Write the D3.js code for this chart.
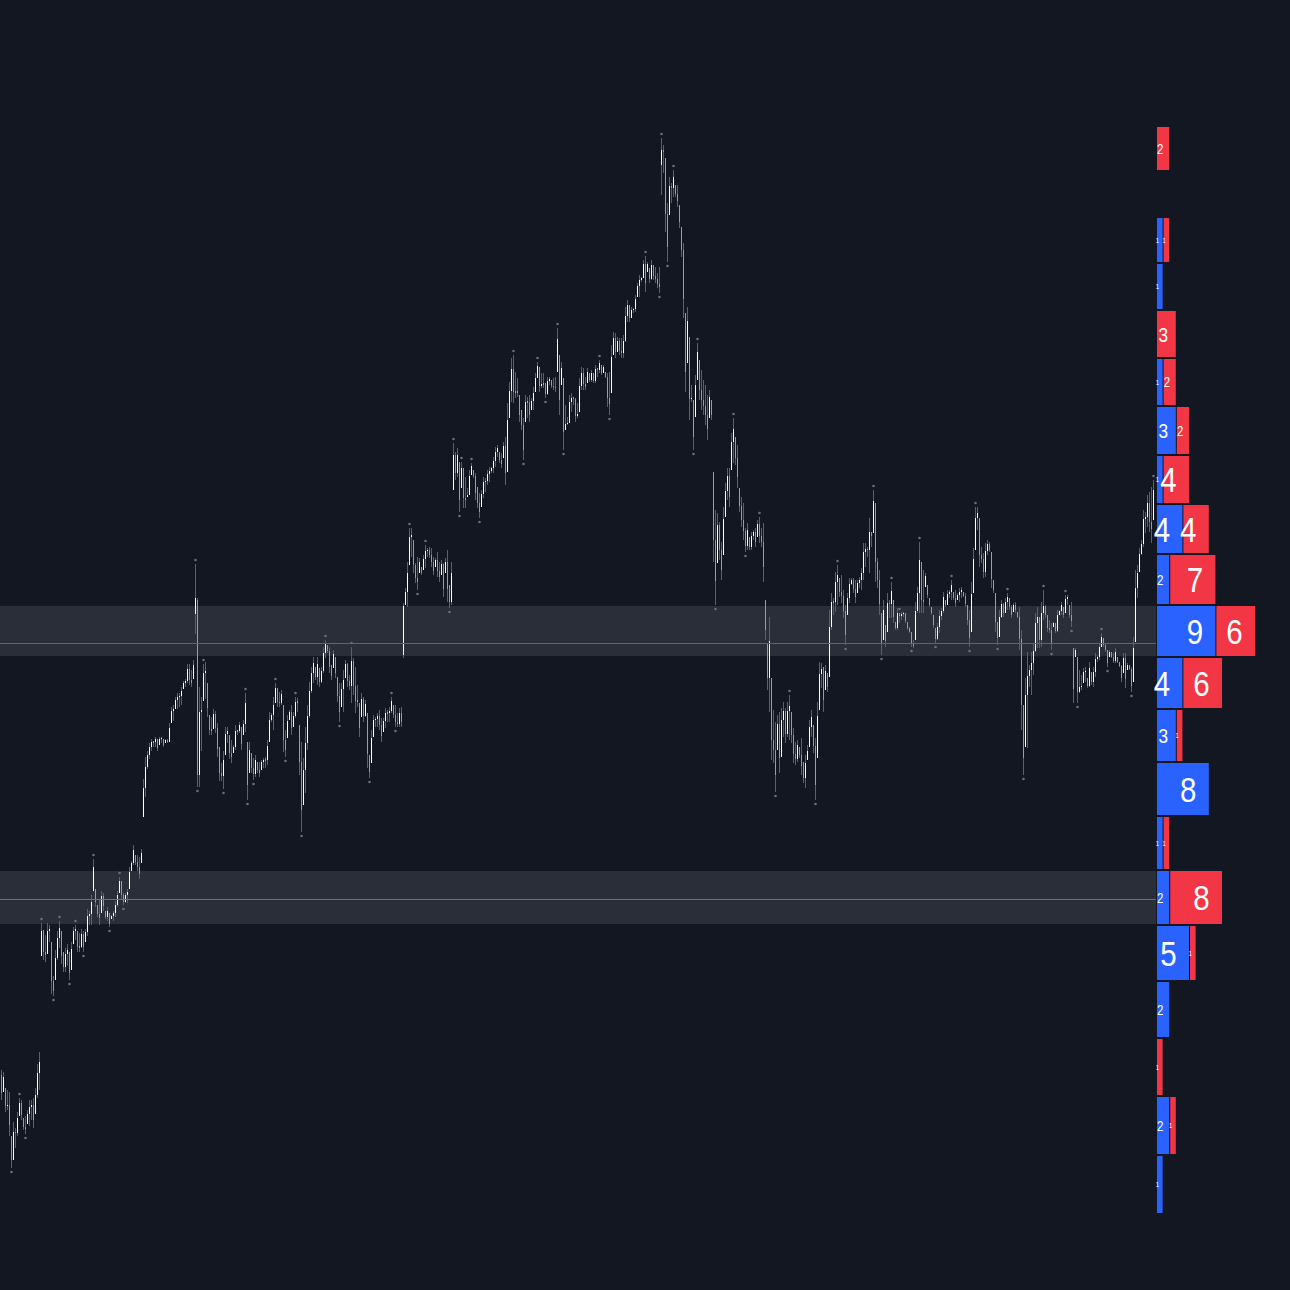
<!DOCTYPE html>
<html><head><meta charset="utf-8">
<script src="https://cdn.jsdelivr.net/npm/d3@7"></script>
<style>html,body{margin:0;padding:0;background:#131722;overflow:hidden}svg{display:block}</style>
</head><body>
<svg id="chart" width="1290" height="1290"></svg>
<script>
// OHLC candles [open, high, low, close]
const candles = [
[42.5,43.0,40.0,40.7],[40.8,42.8,40.8,42.3],[41.2,41.2,38.8,39.4],[39.4,41.0,39.0,39.5],[39.5,40.8,36.4,37.5],
[36.4,36.4,33.2,34.0],[34.0,37.8,34.0,36.8],[36.8,37.2,35.2,36.7],[36.7,38.8,36.4,38.2],[38.4,40.2,38.4,39.7],
[39.7,40.0,38.0,38.5],[38.2,38.2,37.0,37.3],[37.3,38.4,36.6,37.1],[37.6,39.0,37.6,38.6],[38.6,40.0,37.4,39.3],
[39.3,40.0,38.0,39.5],[39.5,40.2,37.2,38.0],[38.6,41.2,38.6,40.5],[40.5,43.6,40.2,42.7],[42.7,44.8,41.0,43.8],
[54.4,57.7,54.4,56.9],[57.0,57.0,54.0,54.8],[54.8,56.5,53.8,54.5],[54.6,57.7,54.6,56.9],[56.9,57.5,55.8,57.1],
[55.8,55.8,50.6,51.9],[51.9,52.4,50.4,50.9],[52.0,55.0,52.0,54.2],[54.2,56.9,54.0,56.2],[56.2,57.9,55.2,57.2],
[56.9,56.9,53.6,54.4],[54.8,54.8,52.8,53.3],[53.3,55.2,52.8,54.6],[54.6,55.6,53.4,55.0],[54.8,54.8,52.0,52.7],
[53.0,55.8,53.0,55.1],[55.6,57.3,55.6,56.9],[56.9,57.5,56.0,57.1],[56.9,56.9,54.8,55.3],[55.3,56.7,54.8,55.3],
[55.3,57.1,55.2,56.6],[56.6,56.9,54.8,55.3],[55.8,57.1,55.8,56.8],[56.8,59.1,56.4,58.4],[58.4,58.9,57.5,58.6],
[58.6,60.5,57.5,59.8],[60.9,64.1,60.9,63.3],[61.1,61.1,59.3,59.8],[59.5,59.5,58.3,58.6],[58.6,60.1,57.5,58.2],
[58.7,60.9,58.7,60.4],[60.4,60.7,58.9,59.4],[58.9,58.9,58.1,58.3],[58.3,59.3,57.9,58.9],[58.7,58.7,57.3,57.6],
[58.1,58.5,58.1,58.4],[58.4,58.9,57.9,58.7],[58.7,59.9,58.3,59.5],[59.5,60.9,59.3,60.5],[60.7,62.3,60.7,61.9],
[61.9,61.9,60.1,60.5],[60.5,60.7,59.5,59.8],[59.8,60.7,59.7,60.5],[60.5,61.1,59.7,60.8],[61.1,63.3,61.1,62.8],
[62.9,63.9,62.9,63.7],[63.7,65.5,63.5,65.0],[64.5,64.5,63.5,63.8],[63.8,64.5,62.9,63.3],[63.3,64.3,62.1,62.6],
[63.7,65.1,63.7,64.7],[68.3,72.1,68.3,71.2],[71.2,74.3,70.3,73.3],[73.3,74.9,73.1,74.5],[74.5,75.7,74.1,75.3],
[75.3,76.1,74.9,75.8],[75.8,75.9,75.3,75.8],[75.8,76.3,75.3,76.1],[76.1,76.1,74.9,75.2],[75.5,76.3,75.5,76.1],
[76.1,76.3,75.7,76.2],[76.1,76.1,75.3,75.5],[75.7,76.1,75.7,76.0],[76.0,76.1,75.7,75.8],[75.8,77.7,75.8,77.2],
[77.7,79.3,77.7,78.9],[78.9,79.5,77.9,79.1],[79.1,80.3,79.1,80.0],[80.0,80.7,79.1,80.3],[80.3,80.7,79.3,80.4],
[80.4,81.3,79.5,80.9],[81.1,81.9,81.1,81.7],[81.7,82.1,81.3,81.9],[81.9,83.6,81.7,83.1],[83.1,83.6,81.5,82.0],
[82.0,83.0,81.3,81.7],[82.1,84.0,82.1,83.5],[88.6,93.6,86.6,90.2],[90.0,90.2,71.3,72.5],[72.5,81.3,71.3,78.8],
[78.8,80.3,74.9,79.0],[79.9,83.6,79.9,82.7],[82.7,83.8,80.1,82.9],[81.7,81.7,78.3,79.2],[78.5,78.5,76.5,77.0],
[77.0,78.3,76.5,77.0],[77.1,79.1,77.1,78.6],[78.6,78.9,76.7,77.2],[77.2,77.7,74.3,75.1],[75.3,75.3,71.9,72.7],
[72.7,73.7,71.9,72.4],[72.4,74.9,71.1,74.0],[74.5,77.3,74.5,76.6],[76.6,77.3,75.7,76.9],[76.5,76.5,74.1,74.7],
[74.7,76.0,73.7,74.3],[74.7,75.5,74.7,75.3],[75.3,77.5,75.0,76.9],[76.9,77.0,76.5,76.9],[76.9,77.8,76.7,77.5],
[77.3,77.3,75.0,75.6],[76.5,78.0,76.5,77.6],[77.6,80.7,76.8,79.7],[75.8,75.8,70.0,71.5],[72.7,75.8,72.7,75.0],
[74.7,74.7,72.7,73.2],[73.2,74.2,72.0,72.6],[72.6,74.5,72.3,74.0],[73.8,73.8,72.7,73.0],[73.0,73.8,72.3,72.7],
[73.0,74.0,73.0,73.8],[73.8,74.2,73.2,74.0],[74.0,74.3,73.2,74.0],[74.0,76.0,73.5,75.4],[75.8,78.8,75.8,78.0],
[78.0,78.7,77.8,78.5],[78.5,80.3,77.0,79.5],[79.7,81.7,79.7,81.2],[81.2,81.2,79.3,79.8],[79.8,80.8,79.3,79.7],
[79.7,81.0,79.5,80.6],[79.5,79.5,74.8,76.0],[76.0,77.0,74.3,75.0],[76.2,78.5,76.2,77.9],[78.0,79.0,78.0,78.8],
[78.8,79.5,76.5,77.2],[77.3,78.8,77.3,78.4],[78.4,80.3,78.2,79.8],[79.8,80.2,78.8,79.8],[77.5,77.5,72.5,73.8],
[73.8,75.8,66.8,69.0],[69.5,74.2,69.5,73.0],[73.0,77.3,70.7,75.7],[75.7,79.5,75.0,78.4],[78.4,81.8,78.2,80.9],
[80.9,83.3,80.7,82.7],[82.7,84.3,81.7,83.7],[83.3,83.3,82.0,82.3],[82.3,84.3,81.5,83.6],[83.2,83.2,81.3,81.8],
[81.8,83.3,81.7,82.9],[82.9,85.3,82.7,84.7],[84.7,86.0,84.2,85.6],[85.5,85.5,84.7,84.9],[84.9,85.3,82.7,83.3],
[83.5,83.5,82.0,82.4],[83.2,85.0,83.2,84.6],[84.3,84.3,82.2,82.7],[82.3,82.3,79.8,80.4],[80.4,81.7,77.8,78.8],
[79.3,81.7,79.3,81.1],[81.1,83.0,78.8,82.0],[82.2,84.0,82.2,83.6],[83.6,83.7,81.3,81.9],[81.9,82.5,81.0,81.4],
[81.4,85.3,79.7,83.9],[83.9,84.2,80.5,81.4],[81.4,83.3,78.7,79.9],[79.9,81.5,79.3,79.9],[79.7,79.7,76.3,77.2],
[78.3,80.7,78.3,80.1],[80.1,80.3,77.8,78.4],[78.4,80.0,78.3,79.6],[78.7,78.7,73.2,74.6],[74.5,74.5,72.2,72.8],
[73.7,77.0,73.7,76.2],[76.3,78.5,76.3,78.0],[78.0,78.3,77.3,78.1],[78.1,78.7,77.3,78.4],[78.4,79.0,77.0,77.5],
[77.5,78.2,75.8,76.4],[76.8,78.2,76.8,77.9],[77.9,79.2,77.2,78.7],[78.7,79.0,77.8,78.7],[78.7,79.3,77.8,78.9],
[78.9,80.3,78.7,79.9],[79.5,79.5,78.2,78.5],[78.5,79.5,77.3,77.8],[77.8,78.7,77.3,77.6],[77.6,79.2,77.3,78.7],
[78.7,79.3,77.3,77.8],[84.5,89.7,84.2,89.4],[89.5,91.2,89.5,90.8],[90.8,93.8,89.3,92.7],[93.5,97.2,93.5,96.3],
[96.3,97.2,94.3,96.5],[96.0,96.0,92.7,93.5],[93.5,93.7,91.7,92.2],[92.2,94.3,91.0,91.8],[92.7,94.2,92.7,93.8],
[93.3,93.3,92.5,92.7],[93.0,94.5,93.0,94.1],[94.1,95.5,93.2,94.9],[94.9,95.2,94.3,95.0],[95.0,95.3,94.2,94.5],
[94.5,95.2,93.3,93.8],[93.8,94.3,92.5,92.9],[93.3,94.2,93.3,94.0],[94.0,94.8,92.3,92.9],[92.9,93.8,91.8,92.3],
[92.5,94.0,92.5,93.6],[93.6,93.7,90.3,91.1],[92.7,94.2,92.7,93.8],[93.8,95.0,89.8,91.1],[91.5,91.5,89.2,89.8],
[89.8,93.8,89.5,92.7],[101.0,105.7,101.0,104.5],[104.5,104.8,102.0,102.7],[102.7,105.2,102.3,104.5],[103.8,103.8,98.8,100.0],
[101.2,103.8,101.2,103.2],[103.2,103.2,99.2,100.2],[100.2,102.3,99.2,100.0],[100.3,101.2,100.3,100.5],[100.5,103.0,100.5,102.4],
[102.5,103.7,102.5,103.4],[103.0,103.0,102.2,102.4],[102.4,102.7,100.0,100.7],[101.3,101.3,99.2,99.7],[99.7,100.7,98.2,98.8],
[99.3,101.0,99.3,100.6],[100.6,102.3,100.2,101.8],[101.8,102.2,100.8,101.9],[101.9,103.0,101.5,102.6],[102.6,103.3,101.8,102.9],
[102.9,103.3,102.7,103.2],[103.2,104.3,102.7,103.9],[103.9,105.3,103.3,104.8],[104.8,105.5,104.3,105.2],[104.8,104.8,103.7,104.0],
[104.0,104.7,103.2,103.6],[104.2,105.8,104.2,105.4],[105.4,106.3,101.5,102.7],[102.8,109.7,102.8,108.0],[108.2,111.8,108.2,110.9],
[110.9,114.2,109.8,113.1],[113.1,114.5,109.7,110.8],[110.8,112.8,110.2,110.8],[110.8,112.2,110.3,110.8],[110.5,110.5,107.8,108.5],
[109.0,109.0,107.0,107.5],[107.5,108.2,104.0,105.0],[107.8,110.5,107.8,109.8],[109.8,110.3,108.2,109.8],[109.8,110.5,107.8,108.5],
[109.0,110.2,109.0,109.9],[109.9,111.3,109.0,110.7],[110.8,112.7,110.8,112.2],[112.2,113.8,112.2,113.4],[113.3,113.3,110.8,111.4],
[111.4,112.7,111.2,111.6],[111.6,112.7,111.2,111.6],[111.7,111.7,110.2,110.6],[110.6,112.3,110.5,111.9],[111.9,112.3,111.5,112.1],
[112.0,112.0,111.2,111.4],[111.4,112.2,111.0,111.3],[111.3,112.3,110.8,111.2],[112.8,117.2,112.8,116.1],[114.5,114.5,108.5,110.0],
[111.5,113.8,111.5,113.2],[112.2,112.2,105.0,106.8],[107.0,109.5,107.0,107.6],[107.6,108.3,107.5,107.7],[107.7,110.5,107.7,109.8],
[109.8,110.7,108.8,110.2],[110.3,110.3,109.5,110.1],[110.1,110.2,107.8,108.4],[108.4,109.7,108.2,108.6],[108.8,112.2,108.8,111.4],
[111.4,113.3,111.0,112.7],[112.7,113.2,111.0,111.6],[111.6,112.3,111.0,111.3],[111.7,113.2,111.7,112.8],[112.7,112.7,111.8,112.0],
[112.0,113.0,111.8,112.7],[112.7,112.7,111.7,111.9],[111.9,113.5,111.7,113.1],[113.2,113.2,112.3,113.0],[113.0,114.0,112.7,113.7],
[113.5,113.5,112.5,112.7],[112.7,113.5,112.7,113.3],[112.8,112.8,112.2,112.3],[112.3,112.7,109.3,110.2],[110.2,112.8,108.5,109.6],
[110.7,115.5,110.7,114.3],[114.5,116.8,114.5,116.2],[116.2,116.7,114.2,114.8],[114.8,116.3,114.8,115.9],[115.9,116.2,114.5,114.9],
[114.9,116.2,114.2,114.7],[114.7,116.5,114.2,115.9],[115.9,119.3,115.8,118.4],[118.4,120.0,117.8,119.5],[119.5,119.5,117.8,118.2],
[118.2,119.3,118.2,119.0],[119.0,119.2,118.7,119.1],[119.1,120.5,118.8,120.1],[120.3,121.7,120.3,121.4],[121.4,122.5,120.3,122.0],
[122.0,122.3,121.8,122.2],[122.2,124.0,122.2,123.6],[123.6,124.4,120.8,121.7],[122.8,123.8,122.8,123.6],[123.2,123.2,121.7,122.1],
[122.1,124.0,122.0,123.5],[123.5,123.5,122.0,122.4],[122.4,123.3,121.7,122.1],[122.1,122.7,121.2,121.6],[121.6,123.3,120.7,121.3],
[133.5,136.2,130.5,135.0],[135.0,135.5,132.7,134.8],[134.2,134.2,126.8,128.6],[128.6,129.7,123.8,125.3],[128.5,132.3,128.5,131.4],
[131.4,131.7,129.7,131.2],[131.2,133.0,130.3,132.3],[131.5,131.5,130.3,130.6],[130.6,131.5,129.3,129.9],[129.5,129.5,127.2,127.8],
[127.3,127.3,124.3,125.0],[125.0,125.7,118.2,120.1],[118.7,118.7,110.8,112.8],[113.7,119.3,113.7,117.9],[116.3,116.3,108.0,110.1],
[110.1,111.5,109.8,110.2],[110.0,110.0,105.0,106.3],[108.3,112.5,108.3,111.5],[112.0,115.7,112.0,114.8],[114.0,114.0,110.0,111.0],
[111.0,113.0,109.0,110.0],[110.0,112.0,108.5,109.4],[109.4,111.5,107.5,108.5],[108.5,110.5,106.0,107.1],[108.2,111.0,108.2,110.3],
[110.0,110.0,108.0,108.5],[102.8,102.8,93.8,96.0],[96.0,99.0,89.5,91.9],[93.7,98.7,93.7,97.5],[97.5,97.8,94.0,95.0],
[95.0,95.8,92.0,93.0],[94.5,99.3,94.5,98.1],[98.3,101.7,98.3,100.9],[100.9,103.2,100.0,102.4],[102.4,103.2,99.3,100.3],
[103.0,106.7,103.0,105.8],[105.8,108.2,103.7,107.1],[106.3,106.3,103.5,104.2],[104.2,105.5,101.2,102.3],[101.2,101.2,98.8,99.4],
[99.4,100.3,97.3,98.0],[98.0,99.7,96.0,96.9],[96.9,97.2,94.8,95.4],[95.4,97.7,95.0,97.0],[96.3,96.3,95.0,95.3],
[95.3,96.8,95.0,96.4],[96.4,97.0,96.0,96.8],[96.8,97.2,95.3,95.8],[96.3,98.0,96.3,97.6],[97.6,98.3,95.7,96.4],
[96.4,97.2,95.3,95.8],[95.8,97.7,91.8,93.3],[90.0,90.0,86.0,87.0],[85.7,85.7,81.0,82.2],[82.2,88.3,78.8,85.9],
[82.2,82.2,74.0,76.0],[76.0,79.0,73.7,75.0],[75.0,77.8,70.8,72.5],[75.0,78.5,75.0,77.6],[77.6,78.8,72.7,74.2],
[74.3,79.2,74.3,78.0],[78.0,79.8,76.3,78.9],[78.9,79.2,75.7,76.6],[76.6,79.8,76.3,78.9],[78.9,80.5,76.0,79.4],
[78.8,78.8,75.7,76.5],[76.5,77.2,73.7,74.6],[74.6,75.8,73.5,74.1],[74.1,76.0,73.8,75.5],[75.3,75.3,74.2,74.5],
[74.5,76.2,72.5,73.4],[73.8,73.8,71.7,72.2],[72.2,74.5,71.2,73.7],[74.0,75.5,74.0,74.9],[75.3,78.0,75.3,77.3],
[77.3,79.0,76.3,78.3],[77.5,77.5,74.7,75.4],[75.4,76.2,70.0,71.5],[74.2,79.8,74.2,78.4],[79.0,83.8,79.0,82.6],
[82.6,83.7,81.2,83.1],[83.3,83.3,78.8,80.0],[81.0,83.5,81.0,82.9],[82.7,82.7,80.8,81.3],[82.3,89.0,82.3,87.3],
[87.3,90.7,87.0,89.8],[89.8,90.2,88.5,89.8],[89.8,92.8,88.8,91.8],[91.8,93.5,89.5,92.5],[92.2,92.2,90.3,90.8],
[90.8,92.5,89.7,90.4],[90.4,91.0,88.2,88.9],[88.9,89.5,85.5,86.5],[88.5,90.7,88.5,90.2],[90.2,92.2,89.7,91.6],
[91.6,92.2,91.5,92.0],[92.0,92.2,90.7,91.1],[91.1,92.0,89.7,90.3],[90.7,92.0,90.7,91.7],[91.7,92.3,91.2,92.0],
[92.0,93.2,91.0,92.7],[92.7,95.7,92.0,94.8],[94.8,95.7,93.3,95.1],[95.1,95.3,94.3,95.0],[95.0,98.2,92.7,96.8],
[96.8,96.8,95.3,96.4],[96.7,101.0,96.7,99.9],[99.7,99.7,91.8,93.8],[93.8,94.2,91.2,92.0],[92.0,93.0,88.5,89.6],
[88.7,88.7,84.5,85.7],[86.0,90.0,86.0,89.0],[87.5,87.5,85.3,85.9],[86.8,90.7,86.8,89.7],[89.7,90.0,88.2,89.6],
[89.6,91.8,88.2,90.9],[90.0,90.0,87.7,88.3],[87.8,87.8,87.0,87.2],[87.2,89.2,87.0,88.7],[88.7,88.7,87.7,88.4],
[88.4,88.8,88.0,88.6],[88.6,88.8,88.3,88.7],[88.7,88.7,87.7,87.9],[87.8,87.8,87.0,87.2],[87.2,87.3,86.7,86.8],
[86.8,86.8,85.3,85.7],[85.7,86.0,85.2,85.4],[86.0,89.8,86.0,88.9],[88.9,91.3,88.7,90.7],[90.7,95.8,88.7,94.0],
[93.8,93.8,88.7,90.0],[90.0,93.0,88.7,89.8],[91.3,92.7,91.3,92.4],[91.5,91.5,90.2,90.5],[90.2,90.2,89.3,89.5],
[89.3,89.3,88.5,88.7],[88.5,88.5,87.2,87.5],[87.2,87.2,85.7,86.1],[86.1,87.7,86.0,87.3],[87.3,89.0,86.7,88.4],
[88.4,89.2,88.0,88.9],[88.9,90.8,88.7,90.3],[90.0,90.0,89.3,89.5],[89.5,91.0,89.5,90.6],[90.6,91.0,90.2,90.8],
[90.8,92.0,90.0,91.5],[90.8,90.8,90.0,90.2],[90.2,91.0,89.3,89.7],[90.0,90.7,90.0,90.5],[90.5,91.2,89.8,90.8],
[90.8,91.3,90.2,91.0],[90.8,90.8,90.3,90.4],[90.4,90.7,89.3,89.6],[89.5,89.5,87.5,88.0],[88.0,89.0,85.3,86.2],
[86.8,91.8,86.8,90.6],[90.7,95.2,90.7,94.1],[95.0,99.3,95.0,98.2],[98.2,99.3,97.0,98.7],[98.2,98.2,93.3,94.5],
[94.5,95.3,93.7,94.1],[94.1,94.7,92.2,92.8],[92.8,95.7,92.3,94.9],[94.9,96.0,94.5,95.6],[95.6,95.8,94.8,95.0],
[94.8,94.8,91.2,92.1],[92.0,92.0,90.7,91.0],[90.7,90.7,86.8,87.8],[87.8,87.8,85.5,86.2],[86.3,89.0,86.3,88.3],
[88.3,90.0,88.2,89.6],[89.6,89.7,88.3,88.7],[88.7,90.2,88.7,89.8],[89.8,90.7,89.0,90.3],[90.2,90.2,89.0,89.3],
[89.3,89.5,88.2,88.5],[88.8,89.7,88.8,89.5],[89.5,89.8,88.7,89.0],[88.8,88.8,88.2,88.3],[88.3,89.3,85.0,86.1],
[86.1,87.0,77.0,79.5],[79.5,79.5,72.5,74.2],[75.3,82.2,75.3,80.5],[80.5,84.8,75.2,82.4],[82.4,83.5,81.3,83.0],
[83.0,84.8,80.5,83.7],[83.7,85.7,82.5,84.9],[84.9,88.7,84.8,87.7],[87.7,89.3,85.2,88.3],[88.3,88.3,85.2,86.0],
[86.0,89.8,85.3,88.7],[88.7,91.0,88.0,89.4],[89.4,89.5,88.2,88.5],[88.5,88.5,86.8,87.2],[87.2,88.0,86.7,87.0],
[87.0,87.7,85.0,85.7],[87.3,87.8,87.3,87.7],[87.7,87.7,86.7,86.9],[86.9,89.0,86.8,88.5],[88.5,89.0,88.5,88.9],
[88.9,89.8,88.5,89.5],[89.3,89.3,88.2,88.5],[88.7,90.5,88.7,90.1],[90.1,90.5,89.5,90.3],[89.5,89.5,88.2,88.5],
[88.5,89.8,87.3,87.9],[85.2,85.2,79.7,81.1],[84.3,85.2,84.3,85.0],[84.3,84.3,79.7,80.8],[80.8,83.0,80.7,81.3],
[81.3,82.5,81.0,81.4],[81.7,83.2,81.7,82.8],[82.8,83.3,81.8,82.9],[82.2,82.2,81.2,81.4],[81.4,83.8,81.3,83.2],
[82.8,82.8,81.5,81.8],[81.8,83.3,81.3,82.8],[82.8,84.7,82.3,84.1],[84.1,84.5,83.8,84.3],[84.3,85.7,84.0,85.3],
[85.3,86.7,85.3,86.3],[86.2,86.2,85.3,85.5],[85.5,85.7,84.8,85.0],[85.0,85.0,83.3,83.7],[84.3,85.0,84.3,84.8],
[84.8,84.8,84.2,84.3],[84.3,84.7,83.7,83.9],[83.9,85.2,83.7,84.8],[84.3,84.3,83.7,83.8],[83.8,83.8,83.3,83.4],
[83.4,83.5,81.8,82.2],[82.7,84.7,82.7,84.2],[84.2,84.7,81.2,82.1],[83.0,83.7,83.0,83.5],[83.5,83.5,83.0,83.1],
[83.1,83.3,80.8,81.4],[81.8,86.3,81.8,85.2],[85.8,93.0,85.8,91.2],[91.2,93.5,90.2,92.7],[92.8,95.2,92.8,94.6],
[94.6,96.0,94.5,95.6],[95.6,99.0,95.3,98.1],[98.1,98.8,96.7,98.3],[98.3,100.5,97.3,99.7],[99.7,100.8,96.8,97.8],
[97.8,101.3,95.7,97.1],[98.0,102.0,98.0,101.0]
];

// candle indices carrying pivot markers
const pivotHighIdx = [9,20,29,37,46,59,97,101,122,137,147,162,175,195,204,212,226,230,235,256,268,278,299,322,330,336,348,366,379,394,418,436,445,449,459,475,487,503,521,532,550,576];
const pivotLowIdx = [5,12,26,34,41,54,61,98,111,123,126,142,150,169,184,197,208,224,229,239,261,272,281,304,329,333,346,357,372,387,407,422,440,455,467,484,498,511,525,535,538,553,565];

// profile rows (price edges, top to bottom) and pivot counts per row
const binEdges = [137.4,132.9,128.3,123.7,119.0,114.2,109.4,104.5,99.6,94.6,89.5,84.3,79.1,73.8,68.4,63.0,57.5,51.9,46.2,40.4,34.5,28.6];
const lowCounts  = [0,0,1,1,0,1,3,1,4,2,9,4,3,8,1,2,5,2,0,2,1];
const highCounts = [2,0,1,0,3,2,2,4,4,7,6,6,1,0,1,8,1,0,1,1,0];

// highlighted zones
const zoneTops = [89.5, 63.0];
const zoneBottoms = [84.3, 57.5];
const zoneLevels = [85.7, 60.1];

const W = 1290, H = 1290;
const chartRight = 1156;
const svg = d3.select('#chart');
svg.append('rect').attr('width', W).attr('height', H).attr('fill', '#131722');

const y = d3.scaleLinear().domain([21, 150]).range([H, 0]);
const x = d3.scaleLinear().domain([0, candles.length - 1]).range([1, 1153]);

const zoneLineColors = ['#2962ff', '#f23645'];

// zones
const gz = svg.append('g');
zoneTops.forEach((t, i) => {
  const y0 = y(t) + 1, y1 = y(zoneBottoms[i]) - 1;
  gz.append('rect').attr('x', 0).attr('y', y0).attr('width', chartRight).attr('height', y1 - y0).attr('fill', '#2a2e39');
});

// candles
const gc = svg.append('g');
candles.forEach((d, i) => {
  const [o, h, l, c] = d;
  const cx = Math.round(x(i)) + 0.5;
  gc.append('line').attr('x1', cx).attr('x2', cx).attr('y1', y(h)).attr('y2', y(l))
    .attr('stroke', '#5d606b').attr('stroke-width', 1);
  let yt = y(Math.max(o, c)), yb = y(Math.min(o, c));
  if (yb - yt < 1) { const m = (yt + yb) / 2; yt = m - 0.5; yb = m + 0.5; }
  gc.append('line').attr('x1', cx).attr('x2', cx).attr('y1', yt).attr('y2', yb)
    .attr('stroke', c >= o ? '#ffffff' : '#9a9da6').attr('stroke-width', 1);
});

// pivot markers
const gm = svg.append('g').attr('fill', '#6b6e79');
pivotHighIdx.forEach(i => {
  gm.append('circle').attr('cx', Math.round(x(i)) + 0.5).attr('cy', y(candles[i][1]) - 4).attr('r', 1.3);
});
pivotLowIdx.forEach(i => {
  gm.append('circle').attr('cx', Math.round(x(i)) + 0.5).attr('cy', y(candles[i][2]) + 4).attr('r', 1.3);
});

// zone level lines
zoneLevels.forEach((lv, i) => {
  const yy = Math.round(y(lv)) + 0.5;
  svg.append('line').attr('x1', 0).attr('x2', chartRight).attr('y1', yy).attr('y2', yy)
    .attr('stroke', zoneLineColors[i]).attr('stroke-width', 1);
});

// profile
const px0 = 1157;
const xp = d3.scaleLinear().domain([0, 10]).range([px0, px0 + 66]);
const gp = svg.append('g');
function label(v, right, cy) {
  const fs = v >= 4 ? 36 : 7 * v;
  const tx = right - (0.3 * fs + 1.5), ty = cy + 0.358 * fs;
  gp.append('text').attr('transform', `translate(${tx},${ty}) scale(0.82,1)`)
    .attr('text-anchor', 'end').attr('font-family', 'Liberation Sans, Arial, sans-serif')
    .attr('font-size', fs).attr('fill', '#ffffff').text(v);
}
for (let r = 0; r < binEdges.length - 1; r++) {
  const top = y(binEdges[r]) + 1, bot = y(binEdges[r + 1]) - 1;
  const cy = (top + bot) / 2;
  const b = lowCounts[r], s = highCounts[r];
  if (b > 0) {
    const w = xp(b) - px0 - 1;
    gp.append('rect').attr('x', px0).attr('y', top).attr('width', w).attr('height', bot - top).attr('fill', '#2962ff');
  }
  if (s > 0) {
    const sx = xp(b);
    const w = xp(s) - px0 - 1;
    gp.append('rect').attr('x', sx).attr('y', top).attr('width', w).attr('height', bot - top).attr('fill', '#f23645');
  }
  if (b > 0) label(b, xp(b) - 1, cy);
  if (s > 0) label(s, xp(b) + xp(s) - px0 - 1, cy);
}
</script>
</body></html>
